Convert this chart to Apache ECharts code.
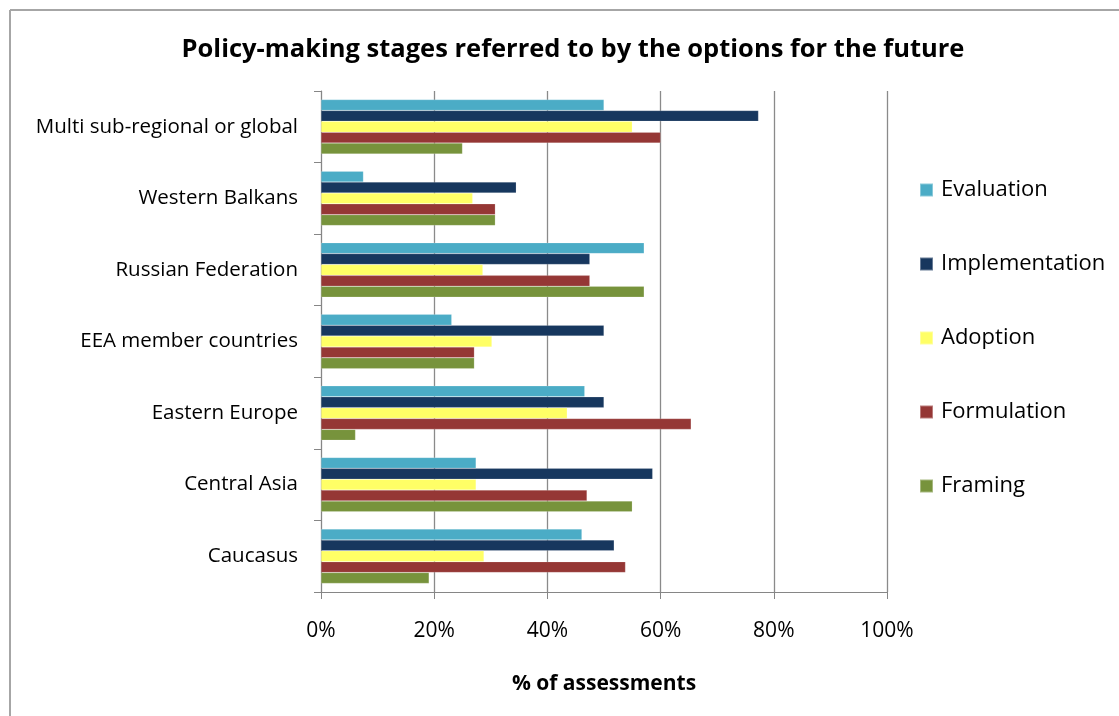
<!DOCTYPE html>
<html>
<head>
<meta charset="utf-8">
<script src="https://cdn.jsdelivr.net/npm/echarts@6/dist/echarts.min.js"></script>
<style>html,body{margin:0;padding:0;background:#fff;}#c{width:1119px;height:716px;}</style>
</head>
<body>
<div id="c"></div>
<script>
// Categories listed bottom to top
var categories = ['Caucasus', 'Central Asia', 'Eastern Europe', 'EEA member countries', 'Russian Federation', 'Western Balkans', 'Multi sub-regional or global'];
var evaluation     = [46.1, 27.4, 46.6, 23.1, 57.1, 7.5, 50.0];
var implementation = [51.8, 58.6, 50.0, 50.0, 47.5, 34.5, 77.3];
var adoption       = [28.8, 27.4, 43.5, 30.2, 28.6, 26.8, 55.0];
var formulation    = [53.8, 47.0, 65.4, 27.1, 47.5, 30.8, 60.0];
var framing        = [19.1, 55.0, 6.1, 27.1, 57.1, 30.8, 25.0];
var xTicks = [0, 20, 40, 60, 80, 100];

var FONT = 'Open Sans';
var chart = echarts.init(document.getElementById('c'));
function bar(name, data, color) {
  return { name: name, type: 'bar', data: data, barGap: '0%', barCategoryGap: '24%',
    itemStyle: { color: color, borderColor: 'rgba(255,255,255,0.35)', borderWidth: 0.5 } };
}
chart.setOption({
  animation: false,
  title: { text: 'Policy-making stages referred to by the options for the future', left: 568, textAlign: 'center', top: 32,
    textStyle: { fontFamily: FONT, fontWeight: 'bold', fontSize: 25.5, color: '#000' } },
  legend: { orient: 'vertical', left: 914, top: 174, itemGap: 52, itemWidth: 13, itemHeight: 13, icon: 'rect',
    textStyle: { fontFamily: FONT, fontSize: 22, color: '#000', padding: [0, 0, 0, 3] } },
  grid: { left: 321, right: 232, top: 91, bottom: 124 },
  xAxis: { type: 'value', min: xTicks[0], max: xTicks[xTicks.length - 1], interval: 20,
    name: '% of assessments', nameLocation: 'middle', nameGap: 82,
    nameTextStyle: { fontFamily: FONT, fontWeight: 'bold', fontSize: 21, color: '#000' },
    axisLine: { show: true, lineStyle: { color: '#868686', width: 1 } },
    axisTick: { show: true, length: 7, lineStyle: { color: '#868686' } },
    splitLine: { show: true, lineStyle: { color: '#8a8a8a', width: 1.3 } },
    axisLabel: { formatter: '{value}%', margin: 29, fontFamily: FONT, fontSize: 21, color: '#000' } },
  yAxis: { type: 'category', data: categories,
    axisLine: { show: true, lineStyle: { color: '#868686', width: 1 } },
    axisTick: { show: true, length: 7, lineStyle: { color: '#868686' } },
    axisLabel: { margin: 23, fontFamily: FONT, fontSize: 20.5, color: '#000' } },
  series: [
    bar('Evaluation', evaluation, '#4BACC6'),
    bar('Implementation', implementation, '#17375E'),
    bar('Adoption', adoption, '#FFFF66'),
    bar('Formulation', formulation, '#953735'),
    bar('Framing', framing, '#77933C')
  ],
  graphic: [
    { type: 'line', shape: { x1: 10, y1: 10, x2: 1119, y2: 10 }, style: { stroke: '#a6a6a6', lineWidth: 2 } },
    { type: 'line', shape: { x1: 10, y1: 10, x2: 10, y2: 716 }, style: { stroke: '#a6a6a6', lineWidth: 2 } }
  ]
});
</script>
</body>
</html>
